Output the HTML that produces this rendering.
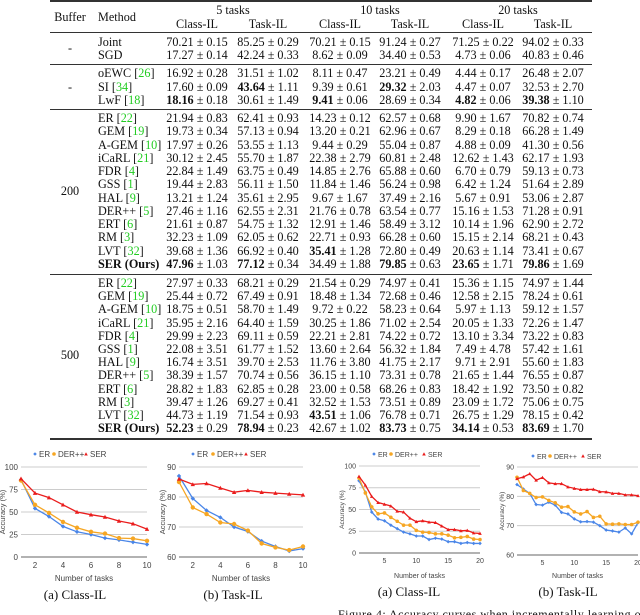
<!DOCTYPE html>
<html><head><meta charset="utf-8">
<style>
body{margin:0;background:#fff;}
#page{position:relative;width:640px;height:615px;overflow:hidden;background:#fff;font-family:"Liberation Serif",serif;color:#111;}
.t{position:absolute;font-size:12.2px;line-height:14px;white-space:nowrap;}
.c{text-align:center;width:120px;}
.rule{position:absolute;left:50px;width:542px;background:#333;}
.cite{color:#22cc22;}
svg text{font-family:"Liberation Sans",sans-serif;}
svg text.cap{font-family:"Liberation Serif",serif;}
</style></head><body>
<div id="page">
<div class="rule" style="top:0px;height:2px"></div>
<div class="rule" style="top:32px;height:1px"></div>
<div class="rule" style="top:64px;height:1px"></div>
<div class="rule" style="top:109px;height:1px"></div>
<div class="rule" style="top:274px;height:1px"></div>
<div class="rule" style="top:438px;height:2px"></div>
<div class="t c" style="left:10px;top:10px">Buffer</div>
<div class="t" style="left:98px;top:10px">Method</div>
<div class="t c" style="left:173px;top:3px">5 tasks</div>
<div class="t c" style="left:320px;top:3px">10 tasks</div>
<div class="t c" style="left:458px;top:3px">20 tasks</div>
<div id="tbl"></div>
<svg id="charts" width="640" height="615" style="position:absolute;left:0;top:0"></svg>
<div class="t" style="left:338px;top:607px;font-size:12px;letter-spacing:0.5px">Figure 4:  Accuracy curves when incrementally learning on the</div>
</div>
<script>
const colCenters=[197,268,340,410,483,553];
const subHeads=["Class-IL","Task-IL","Class-IL","Task-IL","Class-IL","Task-IL"];
const methods=[["Joint",""],["SGD",""],["oEWC","26"],["SI","34"],["LwF","18"],
["ER","22"],["GEM","19"],["A-GEM","10"],["iCaRL","21"],["FDR","4"],["GSS","1"],["HAL","9"],["DER++","5"],["ERT","6"],["RM","3"],["LVT","32"],["*SER (Ours)",""],
["ER","22"],["GEM","19"],["A-GEM","10"],["iCaRL","21"],["FDR","4"],["GSS","1"],["HAL","9"],["DER++","5"],["ERT","6"],["RM","3"],["LVT","32"],["*SER (Ours)",""]];
const rowY=[42,55,73,87,100,118,131.3,144.5,157.8,171,184.3,197.5,210.8,224,237.3,250.5,264,283,296.2,309.4,322.6,335.8,349,362.2,375.4,388.6,401.8,415,428];
const cells=[
["70.21|0.15","85.25|0.29","70.21|0.15","91.24|0.27","71.25|0.22","94.02|0.33"],
["17.27|0.14","42.24|0.33","8.62|0.09","34.40|0.53","4.73|0.06","40.83|0.46"],
["16.92|0.28","31.51|1.02","8.11|0.47","23.21|0.49","4.44|0.17","26.48|2.07"],
["17.60|0.09","*43.64|1.11","9.39|0.61","*29.32|2.03","4.47|0.07","32.53|2.70"],
["*18.16|0.18","30.61|1.49","*9.41|0.06","28.69|0.34","*4.82|0.06","*39.38|1.10"],
["21.94|0.83","62.41|0.93","14.23|0.12","62.57|0.68","9.90|1.67","70.82|0.74"],
["19.73|0.34","57.13|0.94","13.20|0.21","62.96|0.67","8.29|0.18","66.28|1.49"],
["17.97|0.26","53.55|1.13","9.44|0.29","55.04|0.87","4.88|0.09","41.30|0.56"],
["30.12|2.45","55.70|1.87","22.38|2.79","60.81|2.48","12.62|1.43","62.17|1.93"],
["22.84|1.49","63.75|0.49","14.85|2.76","65.88|0.60","6.70|0.79","59.13|0.73"],
["19.44|2.83","56.11|1.50","11.84|1.46","56.24|0.98","6.42|1.24","51.64|2.89"],
["13.21|1.24","35.61|2.95","9.67|1.67","37.49|2.16","5.67|0.91","53.06|2.87"],
["27.46|1.16","62.55|2.31","21.76|0.78","63.54|0.77","15.16|1.53","71.28|0.91"],
["21.61|0.87","54.75|1.32","12.91|1.46","58.49|3.12","10.14|1.96","62.90|2.72"],
["32.23|1.09","62.05|0.62","22.71|0.93","66.28|0.60","15.15|2.14","68.21|0.43"],
["39.68|1.36","66.92|0.40","*35.41|1.28","72.80|0.49","20.63|1.14","73.41|0.67"],
["*47.96|1.03","*77.12|0.34","34.49|1.88","*79.85|0.63","*23.65|1.71","*79.86|1.69"],
["27.97|0.33","68.21|0.29","21.54|0.29","74.97|0.41","15.36|1.15","74.97|1.44"],
["25.44|0.72","67.49|0.91","18.48|1.34","72.68|0.46","12.58|2.15","78.24|0.61"],
["18.75|0.51","58.70|1.49","9.72|0.22","58.23|0.64","5.97|1.13","59.12|1.57"],
["35.95|2.16","64.40|1.59","30.25|1.86","71.02|2.54","20.05|1.33","72.26|1.47"],
["29.99|2.23","69.11|0.59","22.21|2.81","74.22|0.72","13.10|3.34","73.22|0.83"],
["22.08|3.51","61.77|1.52","13.60|2.64","56.32|1.84","7.49|4.78","57.42|1.61"],
["16.74|3.51","39.70|2.53","11.76|3.80","41.75|2.17","9.71|2.91","55.60|1.83"],
["38.39|1.57","70.74|0.56","36.15|1.10","73.31|0.78","21.65|1.44","76.55|0.87"],
["28.82|1.83","62.85|0.28","23.00|0.58","68.26|0.83","18.42|1.92","73.50|0.82"],
["39.47|1.26","69.27|0.41","32.52|1.53","73.51|0.89","23.09|1.72","75.06|0.75"],
["44.73|1.19","71.54|0.93","*43.51|1.06","76.78|0.71","26.75|1.29","78.15|0.42"],
["*52.23|0.29","*78.94|0.23","42.67|1.02","*83.73|0.75","*34.14|0.53","*83.69|1.70"]];
const bufferLabels=[["-",48],["-",87],["200",191],["500",355]];
const tbl=document.getElementById('tbl');
function mk(html,left,top,cls){const d=document.createElement('div');d.className=cls;d.style.left=left+'px';d.style.top=top+'px';d.innerHTML=html;tbl.appendChild(d);return d;}
subHeads.forEach((h,i)=>{const d=mk(h,colCenters[i]-60,17,'t c');

});
bufferLabels.forEach(b=>{const d=mk(b[0],10,b[1]-7,'t c');

});
methods.forEach((m,r)=>{let name=m[0];let h=name.startsWith('*')?'<b>'+name.slice(1)+'</b>':name;
if(m[1])h+=' [<span class="cite">'+m[1]+'</span>]';
const d=mk(h,98,rowY[r]-7,'t');


cells[r].forEach((v,i)=>{let b=v.startsWith('*');let p=(b?v.slice(1):v).split('|');
const ht=(b?'<b>'+p[0]+'</b>':p[0])+' ± '+p[1];
const e=mk(ht,colCenters[i]-60,rowY[r]-7,'t c');

});});

const tasks10=[1,2,3,4,5,6,7,8,9,10];
const tasks20=[1,2,3,4,5,6,7,8,9,10,11,12,13,14,15,16,17,18,19,20];
const erClass10=[86,54,45,34,28,25,21,19,16.5,14];
const derClass10=[85,58,49,39,32.5,28,26,21,20.5,18];
const serClass10=[87,71,66,58,50,47,44.5,40,37,31];
const erTask10=[87,79.5,75.5,73.2,70,68.5,65.3,63.5,62,62.8];
const derTask10=[85,76.5,74.3,71.5,71,68.8,64.5,63.2,62.3,63.5];
const serTask10=[86,84.2,84.5,83,81.6,82.2,81.6,81.3,81,80.7];
const erClass20=[83,70,47,39,37,32,28,24,22,19.5,19.5,15.5,17,16,13,13,11,12,11,11];
const derClass20=[86,69,53,45,46,41,36.5,32,32,26,24,23.5,22,22,20.5,17.5,18,19,16,15.5];
const serClass20=[88,78,65,58,56,54,48,47,40,36,37,35.5,35,31,27,27,25.5,26,23,22.5];
const erTask20=[84,82.5,81,77.2,77,78,77,74.5,74,72.3,71.3,71.4,71.2,70,68.5,68.2,67.8,69.2,67.2,71];
const derTask20=[86.5,82,81,79.6,79.8,78.6,77.8,76.3,76.5,74.7,74,74.8,72.8,73.2,70.6,70.5,70.6,70.4,70.4,71.2];
const serTask20=[86,86.6,87.7,85.5,86.4,84.6,84.3,84.3,83.2,82.7,82.3,82.3,82.4,81.6,81.5,81,81,80.5,80.5,80.2];
const classTicks=[0,25,50,75,100];
const taskTicks=[60,70,80,90];
const xTicks10=[2,4,6,8,10];
const xTicks20=[5,10,15,20];
const seriesNames=["ER","DER++","SER"];
const colors=["#4a86e8","#f6a623","#ea1c1c"];

const NS='http://www.w3.org/2000/svg';
const svg=document.getElementById('charts');
function el(tag,attrs,parent){const e=document.createElementNS(NS,tag);for(const k in attrs)e.setAttribute(k,attrs[k]);(parent||svg).appendChild(e);return e;}
function marker(g,k,x,y,s){
 if(k===0)return el('path',{d:`M${x-s},${y}L${x},${y-s}L${x+s},${y}L${x},${y+s}Z`,fill:colors[0]},g);
 if(k===1)return el('circle',{cx:x,cy:y,r:s,fill:colors[1]},g);
 return el('path',{d:`M${x-s},${y+s*0.8}L${x},${y-s}L${x+s},${y+s*0.8}Z`,fill:colors[2]},g);}
function chart(cfg){
 const g=el('g',{});
 
 
 const xs=v=>cfg.x0+(v-1)/(cfg.xmax-1)*(cfg.x1-cfg.x0);
 const ys=v=>cfg.y1-(v-cfg.ymin)/(cfg.ymax-cfg.ymin)*(cfg.y1-cfg.y0);
 const fs=cfg.fs;
 cfg.yt.forEach(t=>{el('line',{x1:cfg.x0,x2:cfg.x1,y1:ys(t),y2:ys(t),stroke:t===cfg.ymin?'#666':'#ccc','stroke-width':1},g);
  const tx=el('text',{x:cfg.x0-3,y:ys(t)+fs*0.35,'font-size':fs,'text-anchor':'end',fill:'#444'},g);tx.textContent=t;
  
  });
 cfg.xt.forEach(t=>{const tx=el('text',{x:xs(t),y:cfg.y1+fs+3,'font-size':fs,'text-anchor':'middle',fill:'#444'},g);tx.textContent=t;
  
  });
 const yt=el('text',{x:0,y:0,'font-size':fs-0.5,'text-anchor':'middle',fill:'#444',transform:`translate(${cfg.x0-cfg.yoff},${(cfg.y0+cfg.y1)/2}) rotate(-90)`},g);yt.textContent='Accuracy (%)';
 
 
 const xt=el('text',{x:(cfg.x0+cfg.x1)/2,y:cfg.xty,'font-size':fs,'text-anchor':'middle',fill:'#444'},g);xt.textContent='Number of tasks';
 
 
 const cp=el('text',{x:cfg.capx,y:cfg.capy,'font-size':13,'text-anchor':'middle',fill:'#111','class':'cap'},g);cp.textContent=cfg.caption;
 
 
 cfg.series.forEach((s,k)=>{const pts=s.map((v,i)=>xs(cfg.xv[i])+','+ys(v)).join(' ');
  const pl=el('polyline',{points:pts,fill:'none',stroke:colors[k],'stroke-width':1.3},g);
  
  
  s.forEach((v,i)=>{const m=marker(g,k,xs(cfg.xv[i]),ys(v),cfg.ms);
   
   });});
 cfg.leg.forEach((lx,k)=>{const m=marker(g,k,lx,cfg.legy,1.8);
  
  
  const t=el('text',{x:lx+4,y:cfg.legy+2.8,'font-size':cfg.lfs,fill:'#444'},g);t.textContent=seriesNames[k];
  
  });
}
chart({name:'chart-class-il-10',x0:21,x1:147,y0:467,y1:557,xmax:10,ymin:0,ymax:100,yt:classTicks,xt:xTicks10,xv:tasks10,series:[erClass10,derClass10,serClass10],fs:8,yoff:16,xty:581,caption:'(a) Class-IL',capx:75,capy:599,ms:2.2,leg:[35,54,86],legy:454,lfs:8});
chart({name:'chart-task-il-10',x0:179,x1:303,y0:467,y1:557,xmax:10,ymin:60,ymax:90,yt:taskTicks,xt:xTicks10,xv:tasks10,series:[erTask10,derTask10,serTask10],fs:8,yoff:14,xty:581,caption:'(b) Task-IL',capx:233,capy:599,ms:2.2,leg:[193,213,246],legy:454,lfs:8});
chart({name:'chart-class-il-20',x0:359,x1:480,y0:466,y1:553,xmax:20,ymin:0,ymax:100,yt:classTicks,xt:xTicks20,xv:tasks20,series:[erClass20,derClass20,serClass20],fs:7,yoff:15,xty:578,caption:'(a) Class-IL',capx:409,capy:596,ms:1.8,leg:[374,391,424],legy:454,lfs:7});
chart({name:'chart-task-il-20',x0:517,x1:638,y0:467,y1:555,xmax:20,ymin:60,ymax:90,yt:taskTicks,xt:xTicks20,xv:tasks20,series:[erTask20,derTask20,serTask20],fs:7,yoff:13,xty:578,caption:'(b) Task-IL',capx:568,capy:596,ms:1.8,leg:[533,550,583],legy:456,lfs:7});
</script>
</body></html>
